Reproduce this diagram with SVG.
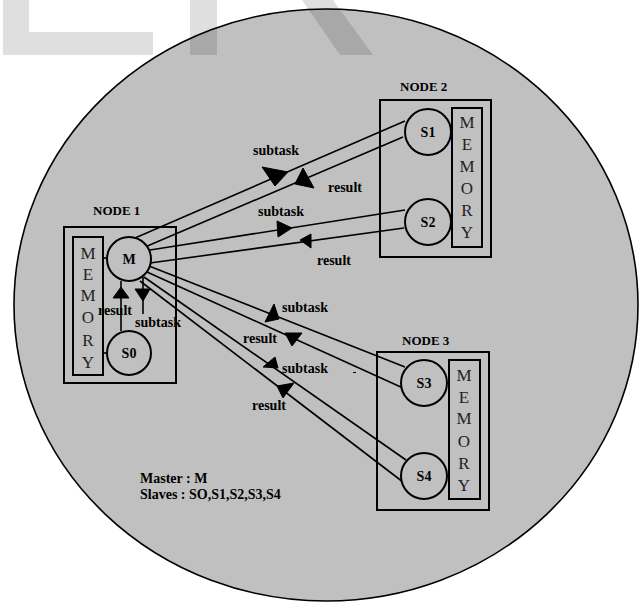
<svg xmlns="http://www.w3.org/2000/svg" width="642" height="602" viewBox="0 0 642 602">
<style>
.bg{fill:#c0c0c0;stroke:#000;stroke-width:1.6}
.wm{fill:#000;fill-opacity:0.125}
.box{fill:none;stroke:#000;stroke-width:2}
.mem{fill:none;stroke:#000;stroke-width:2}
.proc{fill:#c0c0c0;stroke:#000;stroke-width:2}
.ln{stroke:#000;stroke-width:1.6;fill:none}
.ah{fill:#000;stroke:#000;stroke-width:1;stroke-linejoin:round}
.lbl{font-family:"Liberation Serif","Times New Roman",serif;font-weight:bold;font-size:14px;fill:#000}
.ttl{font-family:"Liberation Serif","Times New Roman",serif;font-weight:bold;font-size:13px;fill:#000}
.pn{font-family:"Liberation Serif","Times New Roman",serif;font-weight:bold;font-size:14px;fill:#000;text-anchor:middle}
.ml{font-family:"Liberation Serif","Times New Roman",serif;font-size:17px;fill:#222;text-anchor:middle}
</style>
<rect width="642" height="602" fill="#fff"/>
<ellipse class="bg" cx="326" cy="305" rx="312" ry="296"/>
<g id="watermark">
<rect class="wm" x="3" y="0" width="26" height="32"/>
<rect class="wm" x="3" y="32" width="150" height="23"/>
<rect class="wm" x="190" y="0" width="27" height="55"/>
<polygon class="wm" points="302,0 333,0 373,55 340,55"/>
</g>
<g id="connectors">
<line class="ln" x1="135" y1="238" x2="405" y2="121"/>
<line class="ln" x1="145" y1="247" x2="403" y2="137"/>
<line class="ln" x1="150" y1="250" x2="405" y2="210"/>
<line class="ln" x1="150" y1="263" x2="404" y2="228"/>
<line class="ln" x1="149" y1="266" x2="405" y2="367"/>
<line class="ln" x1="147" y1="272" x2="403" y2="388"/>
<line class="ln" x1="144" y1="277" x2="406" y2="460"/>
<line class="ln" x1="140" y1="281" x2="403" y2="482"/>
<line class="ln" x1="121" y1="281" x2="121" y2="331"/>
<line class="ln" x1="143" y1="277" x2="143" y2="314"/>
<polygon class="ah" points="262,167 288,172 275,186"/>
<polygon class="ah" points="303,168 295,184 314,188"/>
<polygon class="ah" points="277,221 292,228 278,237"/>
<polygon class="ah" points="300,240 311,234 311,248"/>
<polygon class="ah" points="274,304 265,322 279,319"/>
<polygon class="ah" points="285,333 302,333 292,346"/>
<polygon class="ah" points="275,357 263,367 278,368"/>
<polygon class="ah" points="277,386 294,383 283,398"/>
<polygon class="ah" points="121,287 113,298 129,298"/>
<polygon class="ah" points="135,289 150,289 143,301"/>
<text class="lbl" x="253" y="155">subtask</text>
<text class="lbl" x="328" y="192">result</text>
<text class="lbl" x="258" y="216">subtask</text>
<text class="lbl" x="317" y="265">result</text>
<text class="lbl" x="282" y="312">subtask</text>
<text class="lbl" x="243" y="343">result</text>
<text class="lbl" x="282" y="373">subtask</text>
<text class="lbl" x="252" y="410">result</text>
<text class="lbl" x="98" y="315">result</text>
<text class="lbl" x="135" y="327">subtask</text>
<rect x="353" y="372" width="3" height="1" fill="#000"/>
</g>
<g id="node1">
<text class="ttl" x="93" y="215">NODE 1</text>
<rect class="box" x="64" y="227" width="112" height="156"/>
<rect class="mem" x="73" y="237" width="30" height="138"/>
<text class="ml" x="88" y="259">M</text>
<text class="ml" x="88" y="280">E</text>
<text class="ml" x="88" y="301">M</text>
<text class="ml" x="88" y="323">O</text>
<text class="ml" x="88" y="346">R</text>
<text class="ml" x="88" y="368">Y</text>
<line class="ln" x1="103" y1="258" x2="107" y2="258"/>
<line class="ln" x1="103" y1="353" x2="107" y2="353"/>
<g id="M"><circle class="proc" cx="129" cy="259" r="22"/><text class="pn" x="129" y="264">M</text></g>
<g id="S0"><circle class="proc" cx="129" cy="353" r="22"/><text class="pn" x="129" y="358">S0</text></g>
</g>
<g id="node2">
<text class="ttl" x="400" y="91">NODE 2</text>
<rect class="box" x="380" y="100" width="111" height="157"/>
<rect class="mem" x="452" y="108" width="30" height="139"/>
<text class="ml" x="467" y="128">M</text>
<text class="ml" x="467" y="150">E</text>
<text class="ml" x="467" y="172">M</text>
<text class="ml" x="467" y="194">O</text>
<text class="ml" x="467" y="216">R</text>
<text class="ml" x="467" y="238">Y</text>
<g id="S1"><circle class="proc" cx="428" cy="132" r="23"/><text class="pn" x="428" y="137">S1</text></g>
<g id="S2"><circle class="proc" cx="428" cy="222" r="23"/><text class="pn" x="428" y="227">S2</text></g>
</g>
<g id="node3">
<text class="ttl" x="402" y="345">NODE 3</text>
<rect class="box" x="377" y="352" width="112" height="158"/>
<rect class="mem" x="449" y="360" width="31" height="139"/>
<text class="ml" x="464" y="381">M</text>
<text class="ml" x="464" y="403">E</text>
<text class="ml" x="464" y="424">M</text>
<text class="ml" x="464" y="447">O</text>
<text class="ml" x="464" y="469">R</text>
<text class="ml" x="464" y="491">Y</text>
<g id="S3"><circle class="proc" cx="424" cy="383" r="23"/><text class="pn" x="424" y="388">S3</text></g>
<g id="S4"><circle class="proc" cx="424" cy="476" r="23"/><text class="pn" x="424" y="481">S4</text></g>
</g>
<g id="legend">
<text class="lbl" x="140" y="483">Master : M</text>
<text class="lbl" x="140" y="499">Slaves : SO,S1,S2,S3,S4</text>
</g>
</svg>
